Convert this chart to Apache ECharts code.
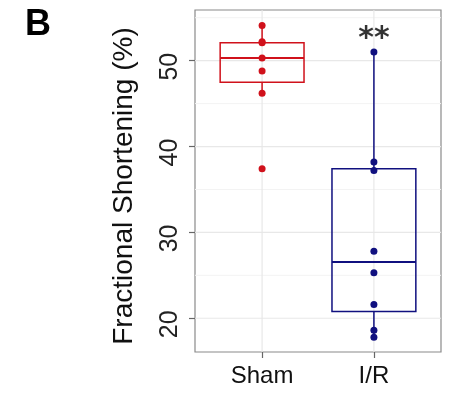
<!DOCTYPE html>
<html>
<head>
<meta charset="utf-8">
<script src="https://cdn.jsdelivr.net/npm/echarts@6/dist/echarts.min.js"></script>
<style>html,body{margin:0;padding:0;background:#fff}#c{width:462px;height:404px}</style>
</head>
<body>
<div id="c"></div>
<script>
const categories = ['Sham', 'I/R'];
const shamValues = [54.1, 52.2, 52.1, 50.3, 48.8, 46.2, 37.4];
const irValues = [51.0, 38.2, 37.2, 27.8, 25.3, 21.6, 18.6, 17.8];
// [lower whisker, Q1, median, Q3, upper whisker]
const shamBox = [46.2, 47.5, 50.3, 52.1, 54.1];
const irBox = [17.8, 20.8, 26.55, 37.4, 51.0];
const yTicks = [20, 30, 40, 50];
const yMinor = [25, 35, 45, 55];
const yRange = [16.07, 55.9];
const annotations = [{ cat: 'I/R', value: 52.5, text: '**' }];
const colors = ['#d0111b', '#10107f'];
const FONT = '"Liberation Sans", Arial, sans-serif';

const chart = echarts.init(document.getElementById('c'), null, { renderer: 'canvas' });

const catPos = c => categories.indexOf(c) + 1;

function gridRender(params, api) {
  const cs = params.coordSys;
  const v = api.value(0);
  const major = api.value(1);
  const isX = api.value(2);
  if (isX) {
    const p = api.coord([v, yRange[0]]);
    return { type: 'line', shape: { x1: p[0], y1: cs.y, x2: p[0], y2: cs.y + cs.height },
      style: { stroke: '#e6e6e6', lineWidth: 1.1 }, silent: true };
  }
  const p = api.coord([1, v]);
  return { type: 'line', shape: { x1: cs.x, y1: p[1], x2: cs.x + cs.width, y2: p[1] },
    style: { stroke: major ? '#e8e8e8' : '#f3f3f3', lineWidth: major ? 1.2 : 1 }, silent: true };
}

function boxRender(params, api) {
  const x = api.value(0);
  const lo = api.coord([x, api.value(1)]);
  const q1 = api.coord([x, api.value(2)]);
  const med = api.coord([x, api.value(3)]);
  const q3 = api.coord([x, api.value(4)]);
  const hi = api.coord([x, api.value(5)]);
  const hw = api.size([0.75, 0])[0] / 2;
  const col = colors[params.dataIndex];
  const st = { stroke: col, lineWidth: 1.5, fill: null };
  return { type: 'group', children: [
    { type: 'line', shape: { x1: hi[0], y1: hi[1], x2: q3[0], y2: q3[1] }, style: st },
    { type: 'line', shape: { x1: lo[0], y1: lo[1], x2: q1[0], y2: q1[1] }, style: st },
    { type: 'rect', shape: { x: q3[0] - hw, y: q3[1], width: 2 * hw, height: q1[1] - q3[1] },
      style: { stroke: col, lineWidth: 1.5, fill: 'rgba(255,255,255,0)' } },
    { type: 'line', shape: { x1: med[0] - hw, y1: med[1], x2: med[0] + hw, y2: med[1] },
      style: { stroke: col, lineWidth: 2 } }
  ] };
}

const gridData = [];
yTicks.forEach(v => gridData.push([v, 1, 0]));
yMinor.forEach(v => gridData.push([v, 0, 0]));
categories.forEach(c => gridData.push([catPos(c), 1, 1]));

chart.setOption({
  animation: false,
  textStyle: { fontFamily: FONT },
  grid: { left: 195, right: 21, top: 10, bottom: 52, show: true, borderColor: '#8a8a8a', borderWidth: 1.2, backgroundColor: '#fff' },
  xAxis: {
    type: 'value', min: 0.4, max: 2.6,
    axisLine: { show: false },
    splitLine: { show: false },
    axisTick: { show: true, length: 6, lineStyle: { color: '#666', width: 1.2 }, customValues: categories.map(catPos) },
    axisLabel: { customValues: categories.map(catPos), formatter: v => categories[Math.round(v) - 1] || '',
      color: '#111', fontSize: 24, fontFamily: FONT, margin: 12 }
  },
  yAxis: {
    type: 'value', min: yRange[0], max: yRange[1],
    axisLine: { show: false },
    splitLine: { show: false },
    axisTick: { show: true, length: 6, lineStyle: { color: '#666', width: 1.2 }, customValues: yTicks },
    axisLabel: { customValues: yTicks, rotate: 90, color: '#222', fontSize: 25, fontFamily: FONT, margin: 12, padding: [0, 12, 0, 0] }
  },
  graphic: [
    { type: 'text', x: 25, y: 25, style: { text: 'B', font: 'bold 36px ' + FONT, fill: '#000', align: 'left', verticalAlign: 'middle' } },
    { type: 'text', x: 124, y: 186, rotation: Math.PI / 2,
      style: { text: 'Fractional Shortening (%)', font: '28px ' + FONT, fill: '#111', align: 'center', verticalAlign: 'middle' } }
  ],
  series: [
    { type: 'custom', renderItem: gridRender, data: gridData, silent: true, z: 0, clip: true },
    { type: 'custom', renderItem: boxRender, data: [[1].concat(shamBox), [2].concat(irBox)], z: 2, silent: true },
    { type: 'scatter', data: shamValues.map(v => [catPos('Sham'), v]), symbolSize: 7,
      itemStyle: { color: colors[0], opacity: 1 }, z: 3, silent: true },
    { type: 'scatter', data: irValues.map(v => [catPos('I/R'), v]), symbolSize: 7,
      itemStyle: { color: colors[1], opacity: 1 }, z: 3, silent: true },
    { type: 'scatter', data: annotations.map(a => ({ value: [catPos(a.cat), a.value], name: a.text })), symbolSize: 0,
      label: { show: true, position: 'inside', formatter: p => p.name, fontSize: 30, fontWeight: 'bold', color: '#000', fontFamily: 'DejaVu Sans' },
      z: 4, silent: true }
  ]
});
</script>
</body>
</html>
